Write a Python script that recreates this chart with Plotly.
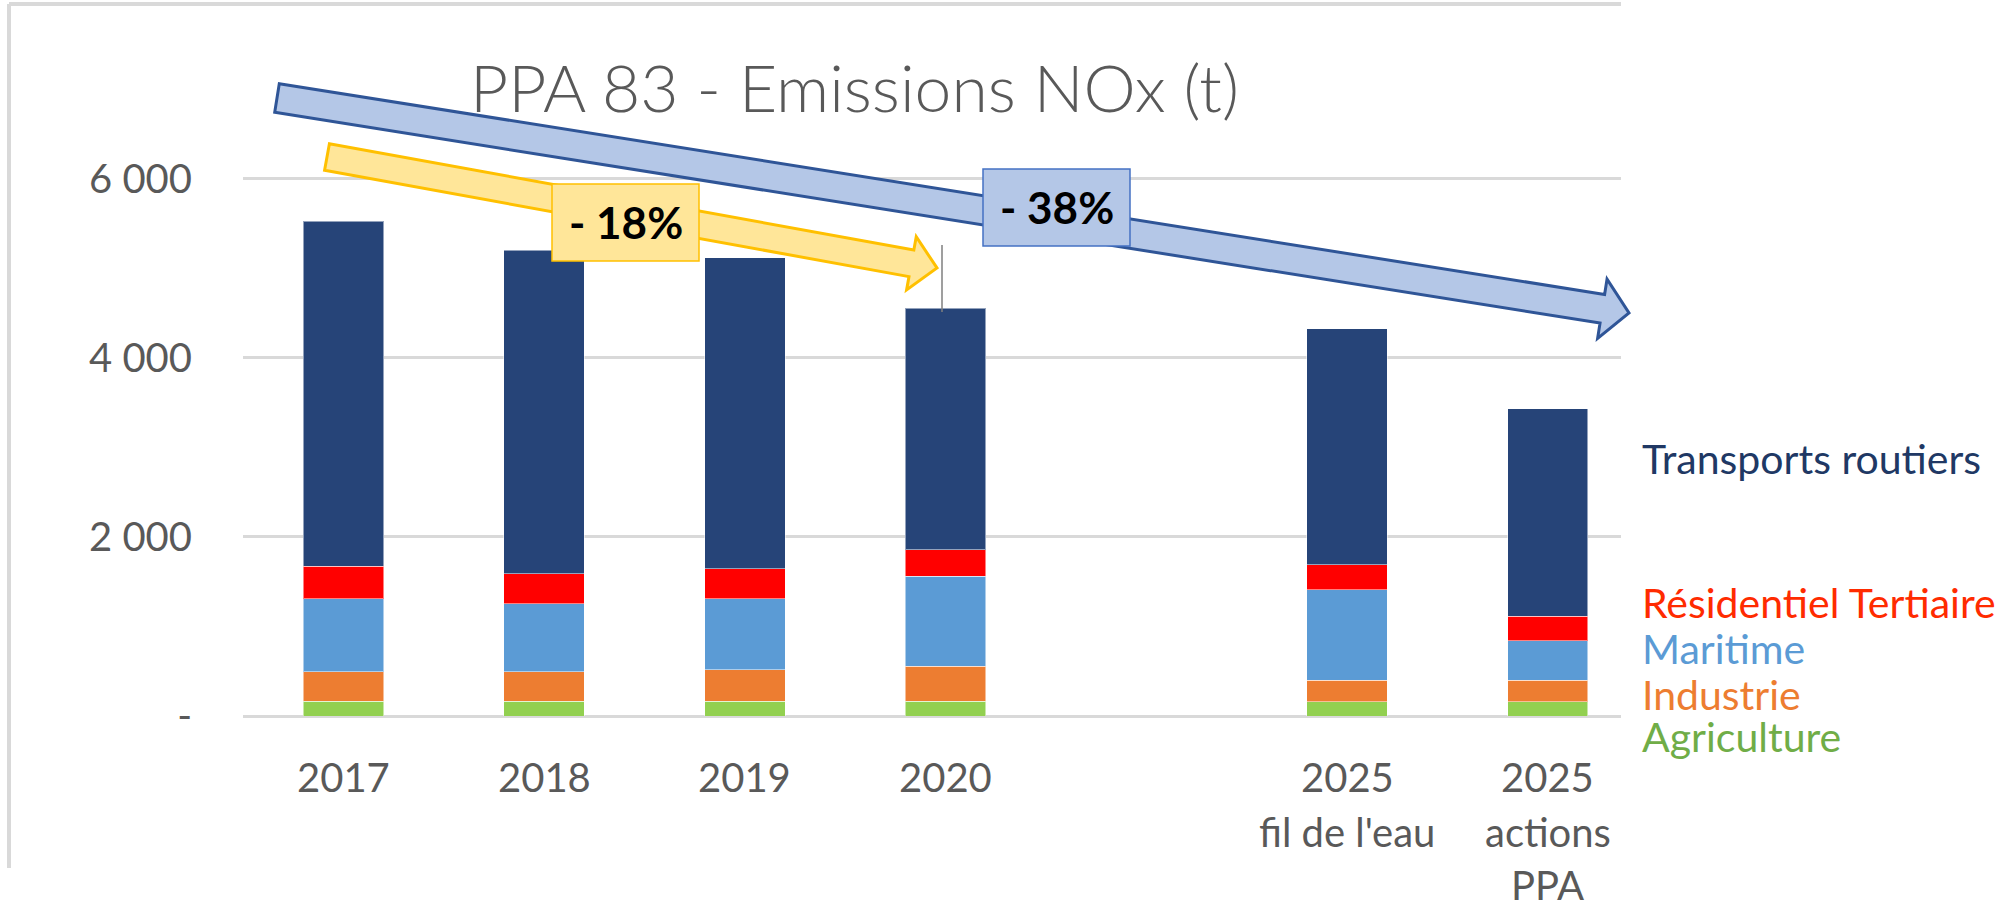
import math
import plotly.graph_objects as go

# ---------------- data ----------------
categories = ["2017", "2018", "2019", "2020", "", "2025<br>fil de l'eau", "2025<br>actions<br>PPA"]
agriculture = [165, 165, 165, 165, None, 160, 160]
industrie = [328, 328, 354, 391, None, 241, 241]
maritime = [818, 762, 792, 1004, None, 1010, 438]
residentiel = [363, 335, 332, 298, None, 279, 275]
transports = [3851, 3610, 3477, 2698, None, 2636, 2316]

series_names = ["Agriculture", "Industrie", "Maritime", "Résidentiel Tertiaire", "Transports routiers"]
series_values = [agriculture, industrie, maritime, residentiel, transports]
bar_colors = ["#92D050", "#ED7D31", "#5B9BD5", "#FF0000", "#264478"]
label_colors = ["#70AD47", "#ED7D31", "#5B9BD5", "#FF2B00", "#203864"]
y_ticks = [0, 2000, 4000, 6000]
y_ticktext = ["-", "2 000", "4 000", "6 000"]

W, H = 2006, 905
L_PX, R_PX, T_PX, B_PX = 243, 1621, 134, 716   # plot area in pixels


def fx(p):
    return (p - L_PX) / (R_PX - L_PX)


def fy(p):
    return (B_PX - p) / (B_PX - T_PX)


x_pos = list(range(len(categories)))

fig = go.Figure()
for name, vals, col in zip(series_names, series_values, bar_colors):
    fig.add_trace(go.Bar(
        x=x_pos, y=vals, name=name, width=0.4,
        marker=dict(color=col, line=dict(color="rgba(255,255,255,0.5)", width=1)),
        showlegend=False,
    ))

FONT = "Lato"
fig.update_layout(
    width=W, height=H,
    barmode="stack",
    plot_bgcolor="white", paper_bgcolor="white",
    margin=dict(l=L_PX, r=W - R_PX, t=T_PX, b=H - B_PX, autoexpand=False),
    font=dict(family=FONT, color="#595959", size=40),
    xaxis=dict(
        range=[-0.5, (R_PX - 343) / 200.8],
        tickvals=x_pos, ticktext=categories, showticklabels=False,
        showgrid=False, zeroline=False, showline=False, ticks="",
        automargin=False,
    ),
    yaxis=dict(
        range=[0, 6500],
        tickvals=y_ticks, ticktext=y_ticktext,
        showgrid=True, gridcolor="#D9D9D9", gridwidth=3,
        zeroline=True, zerolinecolor="#D9D9D9", zerolinewidth=3,
        showline=False, ticks="",
        tickfont=dict(size=40, color="#595959", family=FONT),
        ticklabelstandoff=50,
        automargin=False,
    ),
)


def arrow_path(tail, tip, half_shaft, half_head, head_len):
    x0, y0 = tail
    x1, y1 = tip
    dx, dy = x1 - x0, y1 - y0
    Ln = math.hypot(dx, dy)
    ux, uy = dx / Ln, dy / Ln
    nx, ny = -uy, ux
    bx, by = x1 - ux * head_len, y1 - uy * head_len
    pts = [
        (x0 + nx * half_shaft, y0 + ny * half_shaft),
        (bx + nx * half_shaft, by + ny * half_shaft),
        (bx + nx * half_head, by + ny * half_head),
        (x1, y1),
        (bx - nx * half_head, by - ny * half_head),
        (bx - nx * half_shaft, by - ny * half_shaft),
        (x0 - nx * half_shaft, y0 - ny * half_shaft),
    ]
    s = "M " + " L ".join(f"{fx(px):.5f},{fy(py):.5f}" for px, py in pts) + " Z"
    return s


shapes = []
# chart frame (top and left border)
shapes.append(dict(type="line", xref="paper", yref="paper", x0=fx(9), x1=fx(1621), y0=fy(4), y1=fy(4),
                   line=dict(color="#D9D9D9", width=4), layer="below"))
shapes.append(dict(type="line", xref="paper", yref="paper", x0=fx(9), x1=fx(9), y0=fy(4), y1=fy(868),
                   line=dict(color="#D9D9D9", width=4), layer="below"))
# big blue arrow
shapes.append(dict(type="path", xref="paper", yref="paper",
                   path=arrow_path((277, 98), (1629, 313), 14.5, 30, 27),
                   fillcolor="#B4C7E7", line=dict(color="#2F5597", width=3), layer="above"))
# yellow arrow
shapes.append(dict(type="path", xref="paper", yref="paper",
                   path=arrow_path((327, 157), (937, 268), 13.5, 27, 26),
                   fillcolor="#FFE699", line=dict(color="#FFC000", width=3), layer="above"))
# thin vertical leader line
shapes.append(dict(type="line", xref="paper", yref="paper", x0=fx(942), x1=fx(942), y0=fy(245), y1=fy(312),
                   line=dict(color="#7F7F7F", width=1.5), layer="above"))
# boxes
shapes.append(dict(type="rect", xref="paper", yref="paper", x0=fx(552), x1=fx(699), y0=fy(184), y1=fy(261),
                   fillcolor="#FFE699", line=dict(color="#FFC000", width=1.5), layer="above"))
shapes.append(dict(type="rect", xref="paper", yref="paper", x0=fx(983), x1=fx(1130), y0=fy(169), y1=fy(246),
                   fillcolor="#B4C7E7", line=dict(color="#4472C4", width=1.5), layer="above"))
fig.update_layout(shapes=shapes)

annotations = []
annotations.append(dict(text="PPA 83 - Emissions NOx (t)", xref="paper", yref="paper",
                        x=fx(854), y=fy(86), xanchor="center", yanchor="middle", showarrow=False,
                        font=dict(family=FONT, size=66, color="#595959", weight=300)))
annotations.append(dict(text="<b>- 18%</b>", xref="paper", yref="paper",
                        x=fx(625.5), y=fy(222), xanchor="center", yanchor="middle", showarrow=False,
                        font=dict(family=FONT, size=44, color="#000000")))
annotations.append(dict(text="<b>- 38%</b>", xref="paper", yref="paper",
                        x=fx(1056.5), y=fy(207), xanchor="center", yanchor="middle", showarrow=False,
                        font=dict(family=FONT, size=44, color="#000000")))

# category labels under the bars (one annotation per line, anchored to the x axis)
line_y_px = [777, 832, 885]
for xi, cat in zip(x_pos, categories):
    if not cat:
        continue
    for li, part in enumerate(cat.split("<br>")):
        annotations.append(dict(text=part, xref="x", yref="paper",
                                x=xi, y=fy(line_y_px[li]), xanchor="center", yanchor="middle",
                                showarrow=False,
                                font=dict(family=FONT, size=40, color="#595959")))

label_y_px = [736, 694, 648, 602, 458]
for name, col, ypx in zip(series_names, label_colors, label_y_px):
    annotations.append(dict(text=name, xref="paper", yref="paper",
                            x=fx(1640), y=fy(ypx), xanchor="left", yanchor="middle", showarrow=False,
                            font=dict(family=FONT, size=41, color=col)))
fig.update_layout(annotations=annotations)

fig.write_html(
    "out.html",
    config={"displayModeBar": False},
    post_script="document.body.style.margin='0px';document.body.style.overflow='hidden';",
)
